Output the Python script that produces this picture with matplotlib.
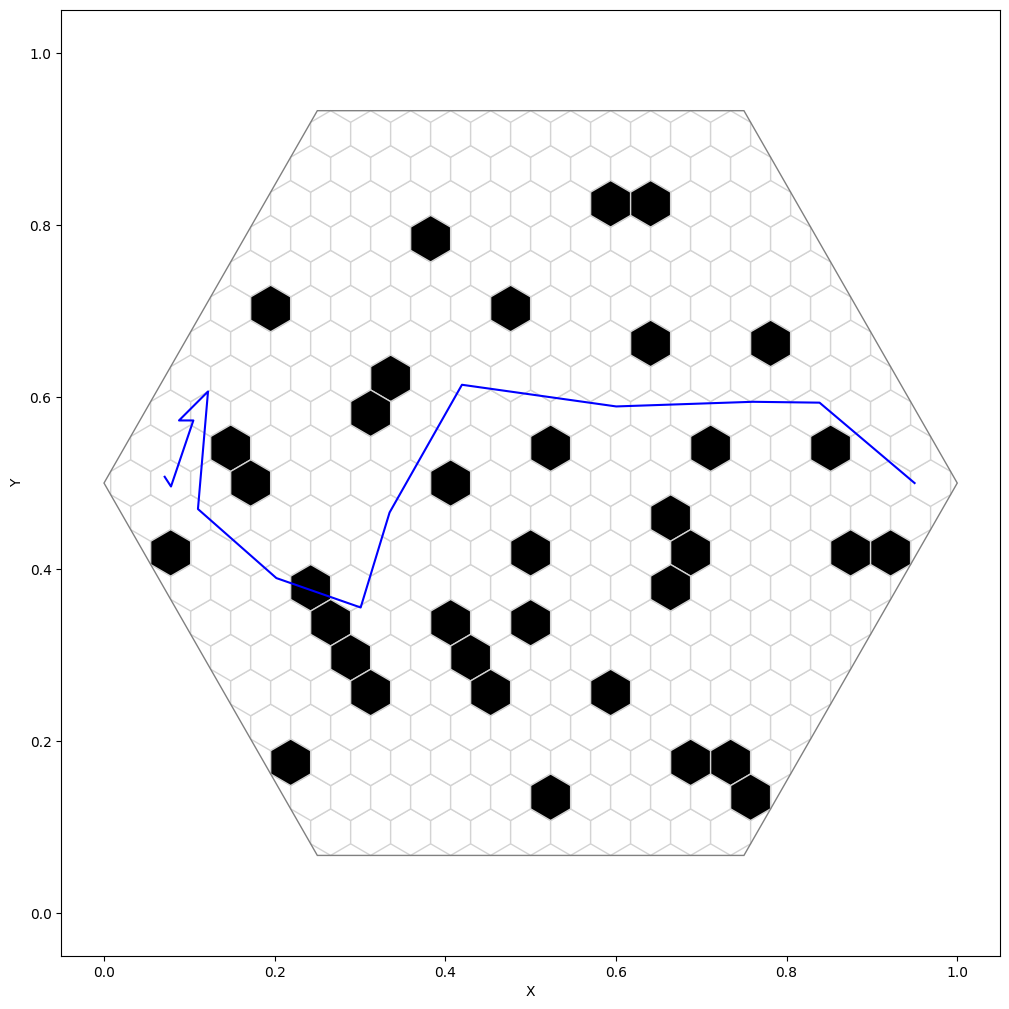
import numpy as np
import matplotlib
matplotlib.use('Agg')
import matplotlib.pyplot as plt
from matplotlib.patches import RegularPolygon

# 격자 크기: 바깥 육각형 반지름 0.5, 작은 셀 반지름 r
board_center = (0.5, 0.5)
board_radius = 0.5
n_rings = 10
cell_r = np.sqrt(3) / 64
cell_w = np.sqrt(3) * cell_r   # 셀 가로 폭
row_h = 1.5 * cell_r           # 행 간격

# 장애물 셀 (행 번호, 반 칸 단위 열 번호)
obstacle_rows = [8, 8, 7, 5, 5, 4, 4, 3, 2, 1, 1, 1, 1, 0, 0, -1, -2, -2,
                 -2, -2, -2, -3, -3, -4, -4, -4, -5, -5, -6, -6, -6, -8, -8, -8,
                 -9, -9]
obstacle_cols = [4, 6, -5, -13, -1, 6, 12, -7, -8, -15, 1, 9, 15, -14, -4, 7, -18, 0,
                 8, 16, 18, -11, 7, -10, -4, 0, -9, -3, -8, -2, 4, -12, 8, 10,
                 1, 11]

# 경로 좌표
path_x = [0.0711, 0.0785, 0.1047, 0.0879, 0.1219, 0.1101, 0.2020, 0.3008,
          0.3347, 0.4195, 0.6003, 0.7604, 0.8386, 0.9500]
path_y = [0.5073, 0.4960, 0.5728, 0.5728, 0.6065, 0.4698, 0.3895, 0.3553,
          0.4658, 0.6143, 0.5891, 0.5945, 0.5935, 0.5000]


def cell_center(row, col):
    return board_center[0] + col * cell_w / 2, board_center[1] + row * row_h


fig = plt.figure(figsize=(10.09, 10.09), dpi=100)
ax = fig.add_axes([0.0608, 0.0525, 0.9302, 0.9375])

# 빈 격자
for row in range(-n_rings, n_rings + 1):
    for col in range(-2 * n_rings, 2 * n_rings + 1):
        if (col - row) % 2 != 0 or abs(col) + abs(row) > 2 * n_rings:
            continue
        hexagon = RegularPolygon(cell_center(row, col), numVertices=6, radius=cell_r,
                                 orientation=0, facecolor='white', edgecolor='lightgray',
                                 linewidth=1, zorder=1)
        ax.add_patch(hexagon)

# 장애물
for row, col in zip(obstacle_rows, obstacle_cols):
    hexagon = RegularPolygon(cell_center(row, col), numVertices=6, radius=cell_r,
                             orientation=0, facecolor='black', edgecolor='lightgray',
                             linewidth=1, zorder=2)
    ax.add_patch(hexagon)

# 바깥 경계
border = RegularPolygon(board_center, numVertices=6, radius=board_radius,
                        orientation=np.pi / 6, facecolor='none', edgecolor='gray',
                        linewidth=1, zorder=3)
ax.add_patch(border)

ax.plot(path_x, path_y, color='blue', linewidth=1.5, zorder=4)

ax.set_xlim(-0.05, 1.05)
ax.set_ylim(-0.05, 1.05)
ax.set_xlabel('X')
ax.set_ylabel('Y')

plt.savefig('out.png', dpi=100)
